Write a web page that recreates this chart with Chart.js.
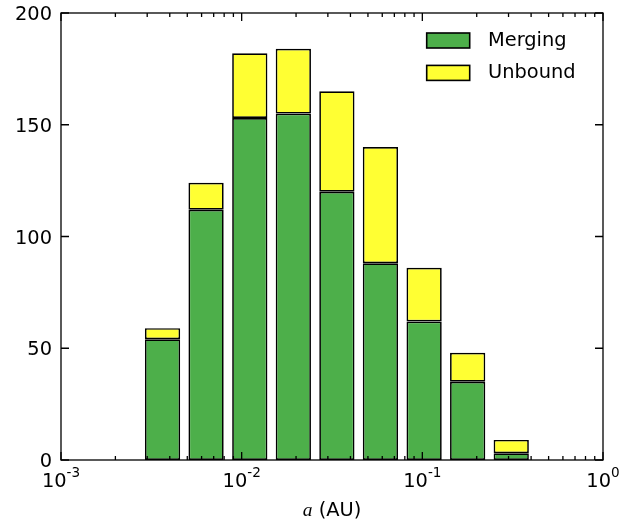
<!DOCTYPE html>
<html lang="en">
<head>
<meta charset="utf-8">
<title>Merging / Unbound</title>
<script src="https://cdn.jsdelivr.net/npm/chart.js@4/dist/chart.umd.min.js"></script>
<style>
    html, body { margin: 0; padding: 0; background: #fff; }
    #wrap { width: 641px; height: 527px; }
</style>
</head>
<body>
<div id="wrap"><canvas id="histChart" width="641" height="527"></canvas></div>
<script>
"use strict";

// Bin centres (AU) of the log-spaced histogram.
const binCenters = [0.003648, 0.006353, 0.01109, 0.01932, 0.03365, 0.05861, 0.1023, 0.1782, 0.3105];

// Counts per bin, stacked: merging at the bottom, unbound on top.
const merging = [54, 112, 153, 155, 120, 88, 62, 35, 3];
const unbound = [5, 12, 29, 29, 45, 52, 24, 13, 6];

// Tick positions and labels.
const xMajorTicks = [0.001, 0.01, 0.1, 1];
const xTickExponents = ["-3", "-2", "-1", "0"];
const yTicks = [0, 50, 100, 150, 200];

const seriesNames = ["Merging", "Unbound"];
const seriesColors = ["#4daf4a", "#ffff33"];

const FONT = "DejaVu Sans";
const FONT_SIZE = 19.4;

// Minor ticks on the log axis: 2..9 times each decade.
function minorTicks() {
    let ticks = [];
    for (let e = -3; e < 0; e++) {
        for (let k = 2; k < 10; k++) {
            ticks.push(k * Math.pow(10, e));
        }
    }
    return ticks;
}

// Draws frame, inward ticks, tick labels, axis title and legend.
const axesPlugin = {
    id: "axesPlugin",
    afterDatasetsDraw(chart) {
        const ctx = chart.ctx;
        const area = chart.chartArea;
        const xs = chart.scales.x;
        const ys = chart.scales.y;

        ctx.save();
        ctx.strokeStyle = "#000";
        ctx.lineWidth = 1.3;

        // Inward ticks on all four sides.
        ctx.beginPath();
        xMajorTicks.forEach(v => {
            let px = xs.getPixelForValue(v);
            ctx.moveTo(px, area.bottom); ctx.lineTo(px, area.bottom - 8);
            ctx.moveTo(px, area.top); ctx.lineTo(px, area.top + 8);
        });
        minorTicks().forEach(v => {
            let px = xs.getPixelForValue(v);
            ctx.moveTo(px, area.bottom); ctx.lineTo(px, area.bottom - 4);
            ctx.moveTo(px, area.top); ctx.lineTo(px, area.top + 4);
        });
        yTicks.forEach(v => {
            let py = ys.getPixelForValue(v);
            ctx.moveTo(area.left, py); ctx.lineTo(area.left + 8, py);
            ctx.moveTo(area.right, py); ctx.lineTo(area.right - 8, py);
        });
        ctx.stroke();

        // Frame.
        ctx.strokeRect(area.left, area.top, area.right - area.left, area.bottom - area.top);

        ctx.fillStyle = "#000";

        // Y tick labels.
        ctx.font = FONT_SIZE + "px '" + FONT + "'";
        ctx.textAlign = "right";
        ctx.textBaseline = "alphabetic";
        yTicks.forEach(v => {
            ctx.fillText(String(v), area.left - 9, ys.getPixelForValue(v) + 7);
        });

        // X tick labels as 10 with a raised exponent.
        const supSize = FONT_SIZE * 0.7;
        ctx.textAlign = "left";
        xMajorTicks.forEach((v, i) => {
            ctx.font = FONT_SIZE + "px '" + FONT + "'";
            let wBase = ctx.measureText("10").width;
            ctx.font = supSize + "px '" + FONT + "'";
            let wSup = ctx.measureText(xTickExponents[i]).width;
            let x0 = xs.getPixelForValue(v) - (wBase + wSup) / 2;
            let base = area.bottom + 27;
            ctx.font = FONT_SIZE + "px '" + FONT + "'";
            ctx.fillText("10", x0, base);
            ctx.font = supSize + "px '" + FONT + "'";
            ctx.fillText(xTickExponents[i], x0 + wBase, base - 10);
        });

        // X axis title: italic a followed by (AU).
        const italic = "italic " + FONT_SIZE + "px 'Liberation Serif'";
        const upright = FONT_SIZE + "px '" + FONT + "'";
        ctx.font = italic;
        let wA = ctx.measureText("a").width;
        ctx.font = upright;
        let wUnit = ctx.measureText(" (AU)").width;
        let tx = (area.left + area.right) / 2 - (wA + wUnit) / 2;
        ctx.font = italic;
        ctx.fillText("a", tx, area.bottom + 56);
        ctx.font = upright;
        ctx.fillText(" (AU)", tx + wA, area.bottom + 56);

        // Legend without frame, top right.
        ctx.textBaseline = "middle";
        ctx.lineWidth = 1.6;
        chart.data.datasets.forEach((ds, i) => {
            let y = area.top + 20 + i * 32.4;
            ctx.fillStyle = ds.backgroundColor;
            ctx.fillRect(426.7, y, 43, 15);
            ctx.strokeRect(426.7, y, 43, 15);
            ctx.fillStyle = "#000";
            ctx.font = FONT_SIZE + "px '" + FONT + "'";
            ctx.fillText(ds.label, 488, y + 8);
        });

        ctx.restore();
    }
};

const datasets = [merging, unbound].map((values, i) => ({
    label: seriesNames[i],
    data: binCenters.map((x, j) => ({ x: x, y: values[j] })),
    backgroundColor: seriesColors[i],
    borderColor: "#000",
    borderWidth: 1.7,
    borderSkipped: false,
    barPercentage: 0.81,
    categoryPercentage: 1.0
}));

new Chart(document.getElementById("histChart"), {
    type: "bar",
    data: { datasets: datasets },
    options: {
        responsive: false,
        animation: false,
        layout: { padding: { top: 13, right: 38, left: 0, bottom: 0 } },
        plugins: {
            legend: { display: false },
            tooltip: { enabled: false }
        },
        scales: {
            x: {
                type: "logarithmic",
                stacked: true,
                min: 0.001,
                max: 1,
                ticks: { display: false },
                grid: { display: false },
                border: { display: false },
                // Only decade ticks, so the bar width follows the bin spacing.
                afterBuildTicks(scale) {
                    scale.ticks = xMajorTicks.map(v => ({ value: v }));
                },
                afterFit(scale) { scale.height = 67; }
            },
            y: {
                stacked: true,
                min: 0,
                max: 200,
                ticks: { display: false },
                grid: { display: false },
                border: { display: false },
                afterFit(scale) { scale.width = 61; }
            }
        }
    },
    plugins: [axesPlugin]
});
</script>
</body>
</html>
